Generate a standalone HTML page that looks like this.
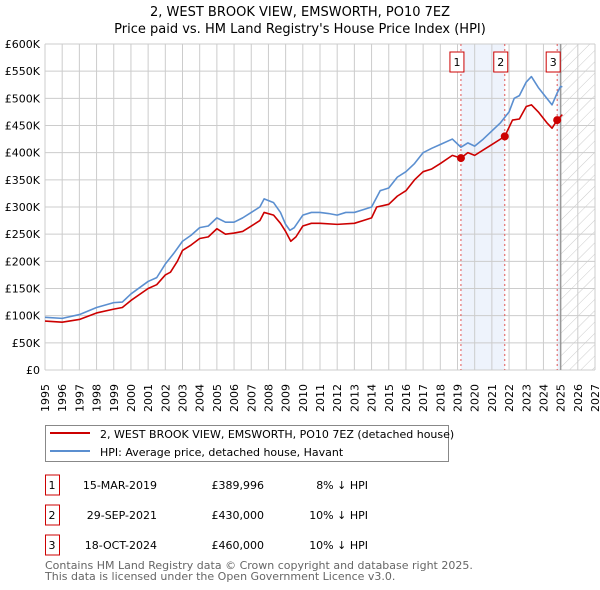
<!DOCTYPE html>
<html><head><meta charset="utf-8"><style>
body{margin:0;background:#fff;font-family:"DejaVu Sans","Liberation Sans",sans-serif;}
#wrap{position:relative;width:600px;height:590px;overflow:hidden}
</style></head><body><div id="wrap">
<svg id="svg" width="600" height="590" xmlns="http://www.w3.org/2000/svg" font-family="DejaVu Sans, Liberation Sans, sans-serif">
<defs><pattern id="hatch" width="8" height="8" patternUnits="userSpaceOnUse" patternTransform="rotate(45)"><line x1="0" y1="0" x2="0" y2="8" stroke="#ccc" stroke-width="1"/></pattern></defs>
<text x="300" y="16" text-anchor="middle" font-size="13">2, WEST BROOK VIEW, EMSWORTH, PO10 7EZ</text>
<text x="300" y="33" text-anchor="middle" font-size="13">Price paid vs. HM Land Registry's House Price Index (HPI)</text>
<g id="plot"></g>
<g>
<rect x="45.5" y="425.5" width="403" height="36" fill="#fff" stroke="#888"/>
<line x1="50" y1="433" x2="90" y2="433" stroke="#cc0000" stroke-width="2"/>
<text x="100" y="438" font-size="11">2, WEST BROOK VIEW, EMSWORTH, PO10 7EZ (detached house)</text>
<line x1="50" y1="451" x2="90" y2="451" stroke="#5b8fd0" stroke-width="2"/>
<text x="100" y="456" font-size="11">HPI: Average price, detached house, Havant</text>
</g>
<g id="table" font-size="11"></g>
<text x="45" y="569" font-size="11" fill="#666">Contains HM Land Registry data © Crown copyright and database right 2025.</text>
<text x="45" y="580" font-size="11" fill="#666">This data is licensed under the Open Government Licence v3.0.</text>
</svg></div>
<script>
const yTicks=[0,50,100,150,200,250,300,350,400,450,500,550,600];
const yTickLabels=["£0","£50K","£100K","£150K","£200K","£250K","£300K","£350K","£400K","£450K","£500K","£550K","£600K"];
const xYears=[1995,1996,1997,1998,1999,2000,2001,2002,2003,2004,2005,2006,2007,2008,2009,2010,2011,2012,2013,2014,2015,2016,2017,2018,2019,2020,2021,2022,2023,2024,2025,2026,2027];
const hpiT=[1995,1996,1997,1998,1999,1999.5,2000,2001,2001.5,2002,2002.5,2003,2003.5,2004,2004.5,2005,2005.5,2006,2006.5,2007,2007.5,2007.75,2008.3,2008.7,2009,2009.25,2009.5,2010,2010.5,2011,2011.5,2012,2012.5,2013,2013.5,2014,2014.5,2015,2015.5,2016,2016.5,2017,2017.5,2018,2018.7,2019.2,2019.6,2020,2020.5,2021,2021.5,2022,2022.3,2022.6,2023,2023.3,2023.7,2024.2,2024.5,2024.8,2025,2025.1];
const hpiV=[97,95,102,115,124,125,140,163,170,195,215,237,248,262,265,280,272,272,280,290,300,315,308,290,268,257,262,285,290,290,288,285,290,290,295,300,330,335,355,365,380,400,408,415,425,410,418,412,425,440,455,475,500,505,530,540,520,500,488,510,522,521];
const propT=[1995,1996,1997,1998,1999,1999.5,2000,2001,2001.5,2002,2002.3,2002.7,2003,2003.5,2004,2004.5,2005,2005.5,2006,2006.5,2007,2007.5,2007.75,2008.3,2008.7,2009,2009.3,2009.6,2010,2010.5,2011,2012,2013,2013.5,2014,2014.3,2015,2015.5,2016,2016.5,2017,2017.5,2018,2018.7,2019.2,2019.6,2020,2020.5,2021,2021.75,2022.2,2022.6,2023,2023.3,2023.7,2024.2,2024.5,2024.8,2025.1];
const propV=[90,88,93,105,112,115,128,150,157,175,180,200,220,230,242,245,260,250,252,255,265,275,290,285,270,255,237,245,265,270,270,268,270,275,280,300,305,320,330,350,365,370,380,395,390,400,395,405,415,430,460,462,485,488,475,455,445,460,470];
const saleT=[2019.2,2021.75,2024.8];
const saleV=[389.996,430,460];
const saleDates=["15-MAR-2019","29-SEP-2021","18-OCT-2024"];
const salePrices=["£389,996","£430,000","£460,000"];
const saleDiffs=["8% ↓ HPI","10% ↓ HPI","10% ↓ HPI"];

const NS="http://www.w3.org/2000/svg";
const X0=45,X1=595,Y0=370,Y1=44;
const xs=t=>X0+(t-1995)*(X1-X0)/32;
const ys=v=>Y0-v*(Y0-Y1)/600;
const g=document.getElementById('plot');
function mk(tag,attrs,parent){const e=document.createElementNS(NS,tag);for(const k in attrs)e.setAttribute(k,attrs[k]);(parent||g).appendChild(e);return e;}
let r=mk('rect',{x:xs(saleT[0]),y:Y1,width:xs(saleT[1])-xs(saleT[0]),height:Y0-Y1,fill:'#eef3fc'});


r=mk('rect',{x:xs(saleT[2]),y:Y1,width:xs(2025)-xs(saleT[2]),height:Y0-Y1,fill:'#eef3fc'});


r=mk('rect',{x:xs(2025),y:Y1,width:X1-xs(2025),height:Y0-Y1,fill:'url(#hatch)'});


yTicks.forEach((v,i)=>{
 const l=mk('line',{x1:X0,x2:X1,y1:ys(v),y2:ys(v),stroke:'#ccc','stroke-width':1});
 
 
 const t=mk('text',{x:X0-5,y:ys(v)+4,'text-anchor':'end','font-size':11});
 t.textContent=yTickLabels[i];
 
 
});
xYears.forEach(yr=>{
 const l=mk('line',{x1:xs(yr),x2:xs(yr),y1:Y1,y2:Y0,stroke:'#ccc','stroke-width':1});
 
 
 const t=mk('text',{x:0,y:0,'font-size':11,transform:`translate(${xs(yr)+4},${Y0+42}) rotate(-90)`});
 t.textContent=yr;
 
 
});
let l=mk('line',{x1:xs(2025),x2:xs(2025),y1:Y1,y2:Y0,stroke:'#999','stroke-width':1.5});


saleT.forEach((t,i)=>{
 const d=mk('line',{x1:xs(t),x2:xs(t),y1:Y1,y2:Y0,stroke:'#e05555','stroke-width':1,'stroke-dasharray':'2,3'});
 
 
 const b=mk('rect',{x:xs(t)-11,y:52,width:14,height:20,fill:'#fff',stroke:'#cc0000'});
 
 
 const tx=mk('text',{x:xs(t)-4,y:66,'text-anchor':'middle','font-size':11});
 tx.textContent=String(i+1);
 
 
});
function line(T,V,color,name){
 const p=mk('polyline',{points:T.map((t,i)=>xs(t)+','+ys(V[i])).join(' '),fill:'none',stroke:color,'stroke-width':1.6,'stroke-linejoin':'round'});
 
 
}
line(hpiT,hpiV,'#5b8fd0','hpi-line');
line(propT,propV,'#cc0000','property-price-line');
saleT.forEach((t,i)=>{
 const c=mk('circle',{cx:xs(t),cy:ys(saleV[i]),r:4,fill:'#cc0000'});
 
 
});
const tb=document.getElementById('table');
[485,515,545].forEach((y,i)=>{
 const b=mk('rect',{x:45.5,y:y-10,width:14,height:20,fill:'#fff',stroke:'#cc0000'},tb);
 
 
 const cells=[[52,String(i+1),'middle'],[157,saleDates[i],'end'],[264,salePrices[i],'end'],[368,saleDiffs[i],'end']];
 cells.forEach(c=>{
  const t=mk('text',{x:c[0],y:y+4,'text-anchor':c[2]},tb);
  t.textContent=c[1];
  
  
 });
});
</script></body></html>
